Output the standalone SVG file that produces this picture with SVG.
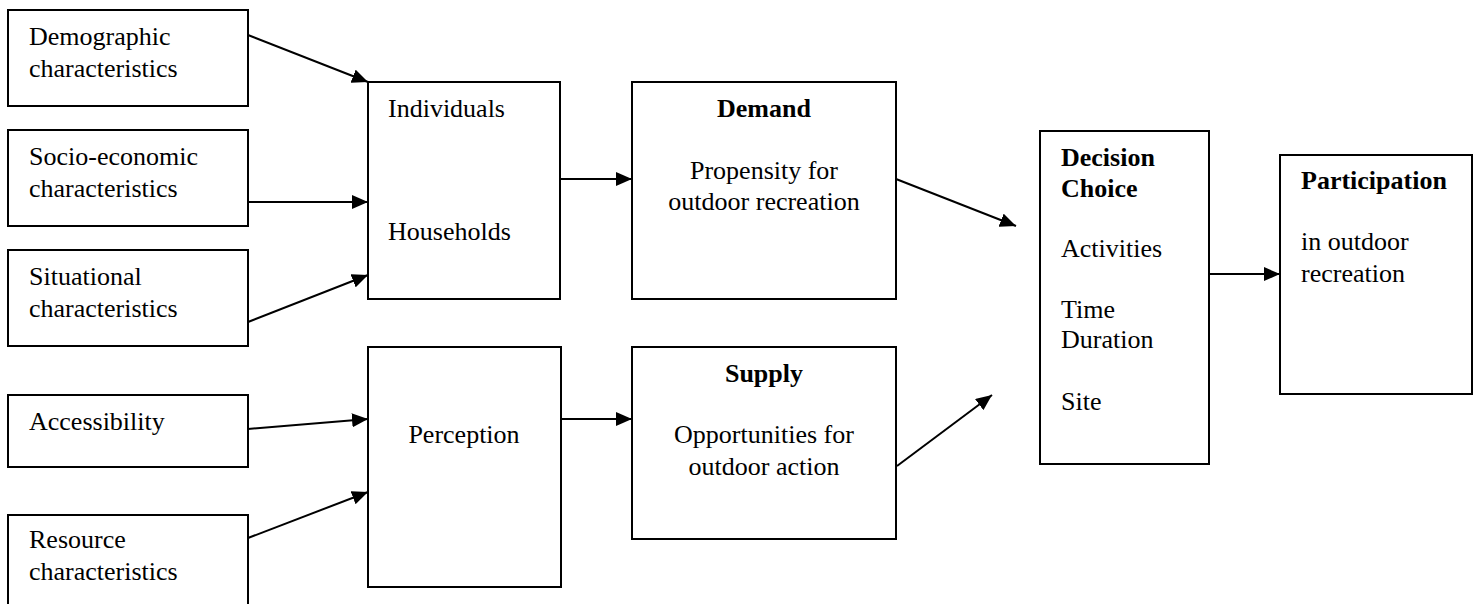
<svg xmlns="http://www.w3.org/2000/svg" width="1476" height="604" viewBox="0 0 1476 604">
<style>
.box{fill:#fff;stroke:#000;stroke-width:2}
.t{font-family:"Liberation Serif","Times New Roman",serif;font-size:26px;fill:#000}
.b{font-weight:bold}
.c{text-anchor:middle}
.conn line{stroke:#000;stroke-width:2;marker-end:url(#ah)}
</style>
<defs>
<marker id="ah" markerUnits="userSpaceOnUse" markerWidth="17" markerHeight="14" refX="16" refY="7" orient="auto">
<path d="M0,0 L16,7 L0,14 z" fill="#000"/>
</marker>
</defs>
<rect width="1476" height="604" fill="#fff"/>
<g id="demographic"><rect class="box" x="8" y="10" width="240" height="96"/><text class="t" x="29" y="45">Demographic</text><text class="t" x="29" y="77">characteristics</text></g>
<g id="socio"><rect class="box" x="8" y="130" width="240" height="96"/><text class="t" x="29" y="165">Socio-economic</text><text class="t" x="29" y="197">characteristics</text></g>
<g id="situational"><rect class="box" x="8" y="250" width="240" height="96"/><text class="t" x="29" y="285">Situational</text><text class="t" x="29" y="317">characteristics</text></g>
<g id="accessibility"><rect class="box" x="8" y="395" width="240" height="72"/><text class="t" x="29" y="430">Accessibility</text></g>
<g id="resource"><rect class="box" x="8" y="515" width="240" height="110"/><text class="t" x="29" y="548">Resource</text><text class="t" x="29" y="580">characteristics</text></g>
<g id="individuals"><rect class="box" x="368" y="82" width="192" height="217"/><text class="t" x="388" y="117">Individuals</text><text class="t" x="388" y="240">Households</text></g>
<g id="perception"><rect class="box" x="368" y="347" width="193" height="240"/><text class="t c" x="464" y="443">Perception</text></g>
<g id="demand"><rect class="box" x="632" y="82" width="264" height="217"/><text class="t b c" x="764" y="117">Demand</text><text class="t c" x="764" y="179">Propensity for</text><text class="t c" x="764" y="210">outdoor recreation</text></g>
<g id="supply"><rect class="box" x="632" y="347" width="264" height="192"/><text class="t b c" x="764" y="382">Supply</text><text class="t c" x="764" y="443">Opportunities for</text><text class="t c" x="764" y="475">outdoor action</text></g>
<g id="decision"><rect class="box" x="1040" y="131" width="169" height="333"/><text class="t b" x="1061" y="166">Decision</text><text class="t b" x="1061" y="197">Choice</text><text class="t" x="1061" y="257">Activities</text><text class="t" x="1061" y="318">Time</text><text class="t" x="1061" y="348">Duration</text><text class="t" x="1061" y="410">Site</text></g>
<g id="participation"><rect class="box" x="1280" y="155" width="192" height="239"/><text class="t b" x="1301" y="189">Participation</text><text class="t" x="1301" y="250">in outdoor</text><text class="t" x="1301" y="282">recreation</text></g>
<g id="connectors" class="conn">
<line x1="248" y1="35" x2="368" y2="82"/>
<line x1="248" y1="202" x2="368" y2="202"/>
<line x1="248" y1="322" x2="368" y2="275"/>
<line x1="248" y1="429" x2="368" y2="419"/>
<line x1="248" y1="538" x2="368" y2="492"/>
<line x1="560" y1="179" x2="632" y2="179"/>
<line x1="561" y1="419" x2="632" y2="419"/>
<line x1="896" y1="179" x2="1016" y2="226"/>
<line x1="897" y1="466" x2="992" y2="395"/>
<line x1="1209" y1="274" x2="1280" y2="274"/>
</g>
</svg>
